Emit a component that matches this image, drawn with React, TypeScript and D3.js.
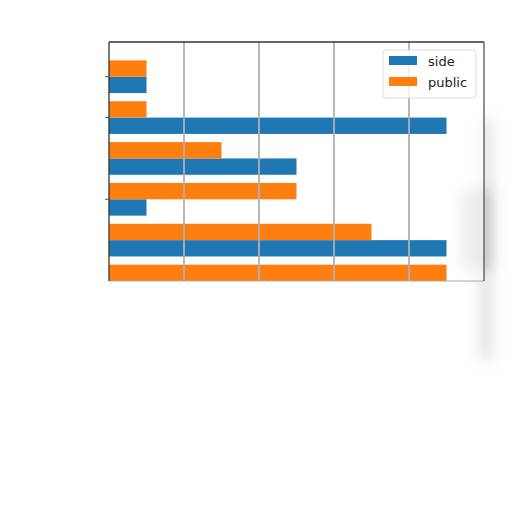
import * as d3 from "d3";

const categories = ["a", "b", "c", "d", "e", "f"];
const sideValues = [0.5, 4.5, 2.5, 0.5, 4.5, 4.5];
const publicValues = [0.5, 0.5, 1.5, 2.5, 3.5, 4.5];
const xTicks = [1, 2, 3, 4];
const yTicks = [0, 1, 3];

const BLUE = "#1f77b4";
const ORANGE = "#ff7f0e";

export default function App() {
  const left = 109;
  const right = 484;
  const top = 42;
  const bottom = 281;

  const x = d3.scaleLinear().domain([0, 5]).range([left, right]);
  const y = d3.scaleLinear().domain([-0.85, 5]).range([top, bottom]);
  const barH = Math.abs(y(0.4) - y(0));

  return (
    <div style={{ position: "fixed", left: 0, top: 0 }}>
      <svg width={512} height={512} style={{ display: "block", background: "#fff" }}>
        <defs>
          <filter id="blur" filterUnits="userSpaceOnUse" x={0} y={0} width={512} height={512}>
            <feGaussianBlur stdDeviation="7" />
          </filter>
          <clipPath id="plot">
            <rect x={left} y={top} width={right - left} height={bottom - top} />
          </clipPath>
        </defs>

        {/* soft shadow on the right */}
        <g filter="url(#blur)">
          <rect x={480} y={120} width={12} height={240} fill="#bbb" opacity={0.45} />
          <rect x={462} y={190} width={30} height={80} fill="#999" opacity={0.45} />
        </g>

        <g clipPath="url(#plot)">
          <rect x={left} y={top} width={right - left} height={bottom - top} fill="#fff" opacity={0.6} />
          {categories.map((c, i) => (
            <g key={c}>
              <rect
                x={x(0)}
                y={y(i)}
                width={x(sideValues[i]) - x(0)}
                height={barH}
                fill={BLUE}
              />
              <rect
                x={x(0)}
                y={y(i) - barH}
                width={x(publicValues[i]) - x(0)}
                height={barH}
                fill={ORANGE}
              />
            </g>
          ))}
          {xTicks.map((t) => (
            <line key={t} x1={x(t)} x2={x(t)} y1={top} y2={bottom} stroke="#b0b0b0" strokeWidth={1.8} />
          ))}
        </g>

        {yTicks.map((t) => (
          <line key={t} x1={left - 4} x2={left} y1={y(t)} y2={y(t)} stroke="#555" strokeWidth={1} />
        ))}

        {/* spines */}
        <line x1={left} x2={right} y1={bottom} y2={bottom} stroke="#aaa" strokeWidth={1} />
        <line x1={left} x2={right} y1={top} y2={top} stroke="#333" strokeWidth={1.3} />
        <line x1={left} x2={left} y1={top} y2={bottom} stroke="#333" strokeWidth={1.3} />
        <line x1={right} x2={right} y1={top} y2={bottom} stroke="#555" strokeWidth={1.3} />

        {/* legend */}
        <g fontFamily="DejaVu Sans" fontSize={13} fill="#222">
          <rect x={383} y={50} width={93} height={48} rx={3} fill="#fff" fillOpacity={0.8} stroke="#ddd" />
          <rect x={389} y={56} width={28} height={9} fill={BLUE} />
          <text x={428} y={65.5}>side</text>
          <rect x={389} y={77} width={28} height={9} fill={ORANGE} />
          <text x={428} y={86.5}>public</text>
        </g>
      </svg>
    </div>
  );
}
